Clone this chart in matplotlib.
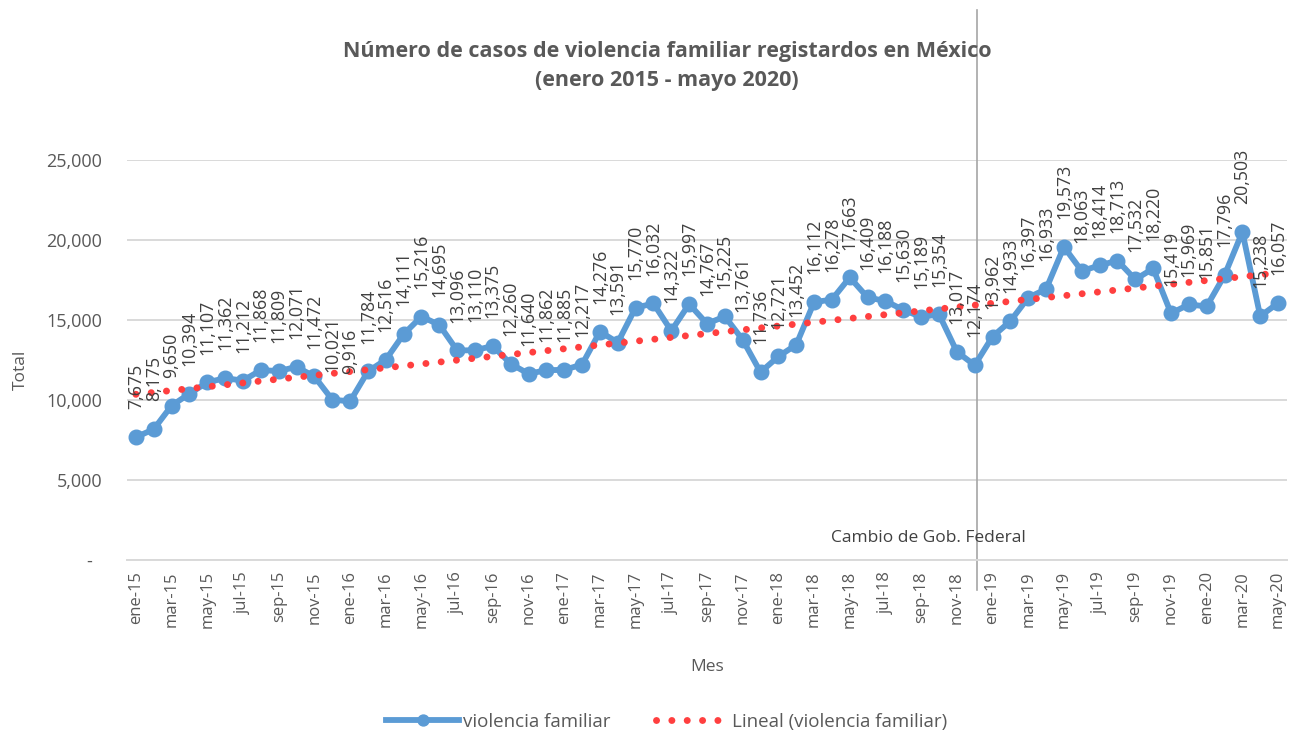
import numpy as np
import matplotlib
matplotlib.use("Agg")
import matplotlib.pyplot as plt
from matplotlib.ticker import FuncFormatter, FixedLocator

plt.rcParams['font.family'] = ['Open Sans', 'DejaVu Sans']

# Monthly registered cases, January 2015 - May 2020
meses_abrev = ["ene", "feb", "mar", "abr", "may", "jun",
               "jul", "ago", "sep", "oct", "nov", "dic"]
anios = ["15", "16", "17", "18", "19", "20"]
casos = [
    7675, 8175, 9650, 10394, 11107, 11362, 11212, 11868, 11809, 12071, 11472, 10021,
    9916, 11784, 12516, 14111, 15216, 14695, 13096, 13110, 13375, 12260, 11640, 11862,
    11885, 12217, 14276, 13591, 15770, 16032, 14322, 15997, 14767, 15225, 13761, 11736,
    12721, 13452, 16112, 16278, 17663, 16409, 16188, 15630, 15189, 15354, 13017, 12174,
    13962, 14933, 16397, 16933, 19573, 18063, 18414, 18713, 17532, 18220, 15419, 15969,
    15851, 17796, 20503, 15238, 16057,
]
etiquetas_mes = [f"{m}-{a}" for a in anios for m in meses_abrev][:len(casos)]
mes_cambio = "dic-18"
texto_cambio = "Cambio de Gob. Federal"

titulo = "Número de casos de violencia familiar registardos en México\n(enero 2015 - mayo 2020)"
serie_nombre = "violencia familiar"
tendencia_nombre = "Lineal (violencia familiar)"

AZUL = "#5B9BD5"
ROJO = "#FF3F3F"
GRIS_TXT = "#595959"
GRIS_ETQ = "#404040"
GRIS_GRID = "#D9D9D9"

x = np.arange(len(casos))
y = np.array(casos, dtype=float)
pendiente, intercepto = np.polyfit(x, y, 1)
tendencia = pendiente * x + intercepto

fig = plt.figure(figsize=(12.89, 7.38), dpi=100)
ax = fig.add_axes([127 / 1289, 1 - 560 / 738, (1287 - 127) / 1289, 400 / 738])

ax.set_xlim(-0.5, len(casos) - 0.5)
ax.set_ylim(0, 25000)

# gridlines
ax.yaxis.set_major_locator(FixedLocator(np.arange(0, 25001, 5000)))
ax.grid(axis='y', color=GRIS_GRID, linewidth=1.4, zorder=0)
ax.set_axisbelow(True)
for s in ("top", "right", "left"):
    ax.spines[s].set_visible(False)
ax.spines["bottom"].set_color(GRIS_GRID)
ax.spines["bottom"].set_linewidth(1.4)

# series
lin_serie, = ax.plot(x, y, color=AZUL, linewidth=4.2, marker='o', markersize=10.5,
                     solid_joinstyle='round', zorder=3, label=serie_nombre)
lin_tend, = ax.plot(x, tendencia, color=ROJO, linewidth=5, linestyle=(0, (0.01, 2.2)),
                    dash_capstyle='round', zorder=4, label=tendencia_nombre)

# data labels
for xi, yi in zip(x, casos):
    ax.annotate(f"{yi:,}", xy=(xi, yi), xytext=(0, 20), textcoords='offset points',
                rotation=90, ha='center', va='bottom', fontsize=12.8,
                color=GRIS_ETQ, annotation_clip=False, zorder=5)

# axes labels / ticks
ax.set_xticks(x[::2])
ax.set_xticklabels(etiquetas_mes[::2], rotation=90, fontsize=12, color=GRIS_TXT)
ax.tick_params(axis='x', length=0, pad=8)
ax.tick_params(axis='y', length=0, pad=18, labelsize=13, labelcolor=GRIS_TXT)
ax.yaxis.set_major_formatter(FuncFormatter(lambda v, p: f"{int(v):,}" if v else "-  "))

ax.set_xlabel("Mes", fontsize=12.5, color=GRIS_TXT, labelpad=22)
ax.set_ylabel("Total", fontsize=12.5, color=GRIS_TXT)
ax.yaxis.set_label_coords((29 - 127) / 1160, 0.475)

# government change marker
i_cambio = etiquetas_mes.index(mes_cambio)
ax.plot([i_cambio + 0.15] * 2, [-1900, 34400], color="#A6A6A6", linewidth=1.2,
        clip_on=False, zorder=2)
ax.text(i_cambio - 2.6, 1400, texto_cambio, ha='center', va='center',
        fontsize=12.5, color=GRIS_ETQ)

fig.text(667 / 1289, 1 - 66 / 738, titulo, ha='center', va='center',
         fontsize=15.5, fontweight='bold', color=GRIS_TXT, linespacing=1.45)

legend = fig.legend(handles=[lin_serie, lin_tend], loc='center', ncol=2,
                    bbox_to_anchor=(667 / 1289, 1 - 722 / 738), frameon=False,
                    fontsize=13.5, labelcolor=GRIS_TXT, handlelength=3.9,
                    columnspacing=2.4, handletextpad=0.2, markerscale=0.75)

fig.savefig("out.png", dpi=100)
